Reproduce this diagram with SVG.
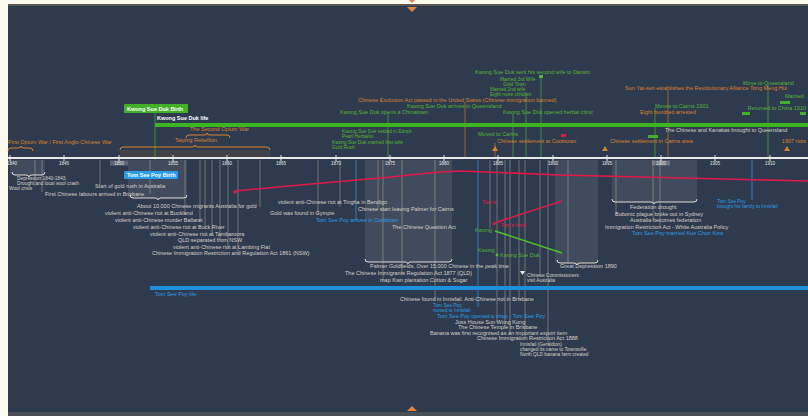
<svg xmlns="http://www.w3.org/2000/svg" width="808" height="416" viewBox="0 0 808 416">
<defs>
<style>
text{font-family:"Liberation Sans",Arial,sans-serif;font-size:5.5px}
.sm{font-size:4.8px}
.w{fill:#d6d0c6}
.o{fill:#d9812c}
.g{fill:#55b534}
.b{fill:#2d9be4}
.r{fill:#e0194a}
.yl{font-size:4.5px;fill:#e6e6e6;text-anchor:middle}
.lbl{font-size:5.5px;fill:#ffffff;font-weight:bold}
.vl{stroke:#cfc0ae;stroke-opacity:0.45;stroke-width:0.9}
.vo{stroke:#d9812c;stroke-opacity:0.7;stroke-width:0.9}
.vg{stroke:#55b534;stroke-opacity:0.7;stroke-width:0.9}
.vb{stroke:#2d9be4;stroke-opacity:0.8;stroke-width:0.9}
.per{fill:#ffffff;fill-opacity:0.09}
.brw{fill:none;stroke:#e0dbd2;stroke-width:1}
.bro{fill:none;stroke:#d9812c;stroke-width:1}
.red{fill:none;stroke:#e0194a;stroke-width:1.6}
.grn{fill:none;stroke:#4fc02a;stroke-width:1.6}
</style>
</defs>
<rect x="0" y="0" width="808" height="416" fill="#2e3b4e"/>
<rect x="0" y="0" width="8" height="416" fill="#fbfaee"/>
<rect x="0" y="0" width="808" height="4" fill="#fbfaee"/>
<rect x="8" y="4" width="800" height="2" fill="#5b5650"/>
<rect x="8" y="412" width="800" height="4" fill="#4b4f56"/>
<path d="M407 7 L417 7 L412 12 Z" fill="#e8843a"/>
<path d="M409 0 L415 0 L412 3 Z" fill="#e8843a"/>
<path d="M407 411 L417 411 L412 406 Z" fill="#e8843a"/>

<g id="periods">
<rect class="per" x="10" y="160" width="35" height="15"/>
<rect class="per" x="128" y="160" width="59" height="38"/>
<rect class="per" x="365" y="160" width="87" height="102"/>
<rect class="per" x="555" y="160" width="43" height="103"/>
<rect class="per" x="612" y="160" width="85" height="42"/>
<rect x="120" y="150" width="150" height="8" fill="#d9812c" fill-opacity="0.12"/>
</g>

<g id="connectors">
<line class="vg" x1="155" y1="113" x2="155" y2="160"/>
<line class="vo" x1="465" y1="102" x2="465" y2="158"/>
<line class="vg" x1="513" y1="114" x2="513" y2="158"/>
<line class="vg" x1="526" y1="92" x2="526" y2="158"/>
<line class="vg" x1="541" y1="77" x2="541" y2="158"/>
<line class="vo" x1="668" y1="90" x2="668" y2="158"/>
<line class="vg" x1="768" y1="85" x2="768" y2="158"/>
<line class="vg" x1="388" y1="114" x2="388" y2="158"/>
<line class="vo" x1="495" y1="143" x2="495" y2="158"/>
<line class="vg" x1="655" y1="108" x2="655" y2="158"/>
<line class="vl" x1="35" y1="160" x2="35" y2="186"/>
<line class="vl" x1="42" y1="160" x2="42" y2="192"/>
<line class="vl" x1="100" y1="160" x2="100" y2="185"/>
<line class="vl" x1="150" y1="160" x2="150" y2="194"/>
<line class="vl" x1="185" y1="160" x2="185" y2="214"/>
<line class="vl" x1="200" y1="160" x2="200" y2="221"/>
<line class="vl" x1="205" y1="160" x2="205" y2="228"/>
<line class="vl" x1="212" y1="160" x2="212" y2="235"/>
<line class="vl" x1="220" y1="160" x2="220" y2="241"/>
<line class="vl" x1="228" y1="160" x2="228" y2="248"/>
<line class="vl" x1="238" y1="160" x2="238" y2="254"/>
<line class="vl" x1="260" y1="160" x2="260" y2="207"/>
<line class="vl" x1="318" y1="160" x2="318" y2="214"/>
<line class="vl" x1="340" y1="160" x2="340" y2="207"/>
<line class="vb" x1="356" y1="160" x2="356" y2="221"/>
<line class="vl" x1="378" y1="160" x2="378" y2="210"/>
<line class="vl" x1="383" y1="160" x2="383" y2="281"/>
<line class="vl" x1="402" y1="160" x2="402" y2="274"/>
<line class="vl" x1="435" y1="160" x2="435" y2="300"/>
<line class="vb" x1="478" y1="160" x2="478" y2="307"/>
<line class="vl" x1="490" y1="160" x2="490" y2="228"/>
<line class="vl" x1="497" y1="160" x2="497" y2="322"/>
<line class="vl" x1="505" y1="160" x2="505" y2="327"/>
<line class="vl" x1="510" y1="160" x2="510" y2="333"/>
<line class="vl" x1="519" y1="160" x2="519" y2="300"/>
<line class="vl" x1="525" y1="160" x2="525" y2="339"/>
<line class="vl" x1="540" y1="160" x2="540" y2="277"/>
<line class="vl" x1="548" y1="160" x2="548" y2="345"/>
<line class="vl" x1="568" y1="160" x2="568" y2="263"/>
<line class="vl" x1="616" y1="160" x2="616" y2="215"/>
<line class="vl" x1="653" y1="160" x2="653" y2="221"/>
<line class="vl" x1="660" y1="160" x2="660" y2="228"/>
<line class="vb" x1="752" y1="160" x2="752" y2="200"/>
<path class="red" d="M235 191 L300 185 L380 178 L440 172 L460 171 L560 175 L808 181"/>
<circle cx="235" cy="192" r="1.6" fill="#e0194a"/>
<path class="red" d="M494 223 L562 201"/>
<circle cx="494" cy="224" r="1.4" fill="#e0194a"/>
<path class="grn" d="M495 231 L562 253"/>
<circle cx="497" cy="255" r="1.4" fill="#4fc02a"/>
</g>

<g id="axis">
<line x1="8" y1="158" x2="808" y2="158" stroke="#e8e8e8" stroke-width="2"/>
<g stroke="#e8e8e8" stroke-width="1">
<line x1="10" y1="155" x2="10" y2="161"/><line x1="64" y1="155" x2="64" y2="161"/><line x1="119" y1="155" x2="119" y2="161"/><line x1="173" y1="155" x2="173" y2="161"/><line x1="227" y1="155" x2="227" y2="161"/><line x1="281" y1="155" x2="281" y2="161"/><line x1="336" y1="155" x2="336" y2="161"/><line x1="390" y1="155" x2="390" y2="161"/><line x1="444" y1="155" x2="444" y2="161"/><line x1="498" y1="155" x2="498" y2="161"/><line x1="553" y1="155" x2="553" y2="161"/><line x1="607" y1="155" x2="607" y2="161"/><line x1="661" y1="155" x2="661" y2="161"/><line x1="715" y1="155" x2="715" y2="161"/><line x1="770" y1="155" x2="770" y2="161"/>
</g>
<rect x="110" y="160.5" width="18" height="5" fill="#e8e8e8" fill-opacity="0.25"/>
<rect x="652" y="160.5" width="18" height="5" fill="#e8e8e8" fill-opacity="0.25"/>
<text class="yl" x="12" y="165">1840</text><text class="yl" x="64" y="165">1845</text><text class="yl" x="119" y="165">1850</text><text class="yl" x="173" y="165">1855</text><text class="yl" x="227" y="165">1860</text><text class="yl" x="281" y="165">1865</text><text class="yl" x="336" y="165">1870</text><text class="yl" x="390" y="165">1875</text><text class="yl" x="444" y="165">1880</text><text class="yl" x="498" y="165">1885</text><text class="yl" x="553" y="165">1890</text><text class="yl" x="607" y="165">1895</text><text class="yl" x="661" y="165">1900</text><text class="yl" x="715" y="165">1905</text><text class="yl" x="770" y="165">1910</text>
</g>

<g id="kwong-birth">
<rect x="124" y="104" width="64" height="9" rx="1" fill="#44b02a"/>
<text class="lbl" x="127" y="110.5">Kwong Sue Duk Birth</text>
</g>
<g id="kwong-life">
<rect x="155" y="123" width="653" height="4" fill="#3cb521"/>
<text class="lbl" x="157" y="120">Kwong Sue Duk life</text>
</g>
<g id="tom-birth">
<rect x="124" y="171" width="54" height="8" rx="1" fill="#2a9de8"/>
<text class="lbl" x="127" y="177">Tom See Poy Birth</text>
</g>
<g id="tom-life">
<rect x="150" y="286" width="658" height="4" fill="#1e90e0"/>
<text class="b" x="155" y="296">Tom See Poy life</text>
</g>

<g id="wars">
<path class="bro" d="M8 151 Q8 148 11 148 L18 148 Q21 148 21 146 Q21 148 24 148 L30 148 Q33 148 33 151"/>
<text class="o" x="8" y="144">First Opium War / First Anglo-Chinese War</text>
<path class="bro" d="M120 150 Q120 147 123 147 L192 147 Q195 147 195 145 Q195 147 198 147 L267 147 Q270 147 270 150"/>
<text class="o" x="175" y="142">Taiping Rebellion</text>
<path class="bro" d="M186 138 Q186 135 189 135 L204 135 Q207 135 207 133 Q207 135 210 135 L227 135 Q230 135 230 138"/>
<text class="o" x="190" y="131">The Second Opium War</text>
</g>

<g id="kwong-events">
<text class="g" x="475" y="74">Kwong Sue Duk sent his second wife to Darwin</text>
<rect x="539" y="75" width="4" height="3" fill="#55b534"/>
<text class="g sm" x="500" y="81">Married 3rd Wife</text>
<text class="g sm" x="503" y="86">Gold Town</text>
<text class="g sm" x="490" y="91">Married 2nd wife</text>
<text class="g sm" x="490" y="96">Eight more children</text>
<text class="o" x="358" y="102">Chinese Exclusion Act passed in the United States (Chinese immigration banned)</text>
<text class="g" x="407" y="108">Kwong Sue Duk arrives in Queensland</text>
<text class="g" x="340" y="114">Kwong Sue Duk opens a Chinatown</text>
<text class="g" x="503" y="114">Kwong Sue Duk opened herbal clinic</text>
<text class="g sm" x="342" y="133">Kwong Sue Duk settled in Ettrick</text>
<text class="g sm" x="342" y="138">Pearl Herbalist</text>
<text class="g sm" x="332" y="143.5">Kwong Sue Duk married first wife</text>
<text class="g sm" x="332" y="148.5">Gold Rush</text>
<text class="g" x="478" y="136">Moved to Cairns</text>
<rect x="561" y="134" width="5" height="3" fill="#e0194a"/>
<text class="o" x="497" y="143">Chinese settlement at Cooktown</text>
<path d="M492 151 L498 151 L495 146 Z" fill="#d9812c"/>
<path d="M602 151 L608 151 L605 146 Z" fill="#d9812c"/>
<path d="M784 151 L790 151 L787 146 Z" fill="#d9812c"/>
<text class="g" x="743" y="85">Move to Queensland</text>
<text class="o" x="625" y="90">Sun Yat-sen establishes the Revolutionary Alliance Tong Meng Hui</text>
<text class="g" x="785" y="98">Married</text>
<rect x="780" y="101" width="10" height="3" fill="#44b02a"/>
<text class="g" x="655" y="108">Moves to Cairns 1901</text>
<text class="g" x="806" y="110" text-anchor="end">Returned to China 1910</text>
<rect x="742" y="112" width="8" height="3" fill="#44b02a"/>
<rect x="800" y="112" width="6" height="3" fill="#44b02a"/>
<text class="o" x="640" y="114">Eight hundred arrested</text>
<text class="w" x="665" y="132">The Chinese and Kanakas brought to Queensland</text>
<rect x="648" y="135" width="10" height="3" fill="#44b02a"/>
<text class="o" x="610" y="143">Chinese settlement in Cairns area</text>
<text class="o" x="806" y="143" text-anchor="end">1907 riots</text>
</g>

<g id="below-events">
<path class="brw" d="M12 172 Q12 175 15 175 L26 175 Q29 175 29 177 Q29 175 32 175 L42 175 Q45 175 45 172"/>
<text class="w sm" x="17" y="180">Depression 1840-1843,</text>
<text class="w sm" x="17" y="185">Drought and local wool crash</text>
<text class="w sm" x="9" y="190">Wool crisis</text>
<text class="w" x="95" y="188">Start of gold rush in Australia</text>
<text class="w" x="45" y="196">First Chinese labours arrived in Brisbane</text>
<path class="brw" d="M130 195 Q130 198 133 198 L155 198 Q158 198 158 200 Q158 198 161 198 L184 198 Q187 198 187 195"/>
<text class="w" x="137" y="208">About 10,000 Chinese migrants Australia for gold</text>
<text class="w" x="278" y="204">violent anti-Chinese riot at Tingha in Bendigo</text>
<text class="w" x="105" y="215">violent anti-Chinese riot at Buckland</text>
<text class="w" x="270" y="215">Gold was found in Gympie</text>
<text class="w" x="115" y="222">violent anti-Chinese murder Ballarat</text>
<text class="w" x="133" y="229">violent anti-Chinese riot at Buck River</text>
<text class="w" x="150" y="236">violent anti-Chinese riot at Tambaroora</text>
<text class="w" x="178" y="242">QLD separated from NSW</text>
<text class="w" x="173" y="249">violent anti-Chinese riot at Lambing Flat</text>
<text class="w" x="152" y="255">Chinese Immigration Restriction and Regulation Act 1861 (NSW)</text>
<text class="w" x="358" y="211">Chinese start leaving Palmer for Cairns</text>
<text class="b" x="316" y="222">Tom See Poy arrives in Cooktown</text>
<text class="w" x="392" y="229">The Chinese Question Act</text>
<text class="r" x="482" y="204">Tom's</text>
<text class="r" x="500" y="227">Tom's birth</text>
<text class="g" x="475" y="232">Kwong</text>
<text class="g" x="478" y="252">Kwong</text>
<text class="g" x="500" y="257">Kwong Sue Duk</text>
<path class="brw" d="M365 259 Q365 262 368 262 L405 262 Q408 262 408 264 Q408 262 411 262 L449 262 Q452 262 452 259"/>
<text class="w" x="370" y="268">Palmer Goldfields. Over 15,000 Chinese in the peak time</text>
<text class="w" x="345" y="275">The Chinese Immigrants Regulation Act 1877 (QLD)</text>
<text class="w" x="380" y="282">map Kwn plantation Cotton &amp; Sugar</text>
<path class="brw" d="M557 260 Q557 263 560 263 L574 263 Q577 263 577 265 Q577 263 580 263 L595 263 Q598 263 598 260"/>
<text class="w" x="560" y="268">Great Depression 1890</text>
<path d="M520 271 L525 271 L522.5 275 Z" fill="#e6e6e6"/>
<text class="w sm" x="527" y="277">Chinese Commissioners</text>
<text class="w sm" x="527" y="282">visit Australia</text>
<path class="brw" d="M612 199 Q612 202 615 202 L651 202 Q654 202 654 204 Q654 202 657 202 L694 202 Q697 202 697 199"/>
<text class="w" x="630" y="209">Federation drought</text>
<text class="w" x="615" y="216">Bubonic plague broke out in Sydney</text>
<text class="w" x="630" y="222">Australia becomes federation</text>
<text class="w" x="605" y="229">Immigration Restriction Act - White Australia Policy</text>
<text class="b" x="632" y="235">Tom See Poy married Kue Chun Kow</text>
<text class="b sm" x="717" y="203">Tom See Poy</text>
<text class="b sm" x="717" y="208">brought his family to Innisfail</text>
<text class="w" x="400" y="301">Chinese found in Innisfail. Anti-Chinese riot in Brisbane</text>
<text class="b sm" x="433" y="307">Tom See Poy</text>
<text class="b sm" x="433" y="312">moved to Innisfail</text>
<text class="b" x="437" y="318">Tom See Poy opened a shop - Tom See Poy</text>
<text class="w" x="455" y="323.5">Joss House Sun Wong Kong</text>
<text class="w" x="458" y="329">The Chinese Temple in Brisbane</text>
<text class="w" x="430" y="334.5">Banana was first recognised as an important export item</text>
<text class="w" x="477" y="340">Chinese Immigration Restriction Act 1888</text>
<text class="w sm" x="520" y="346">Innisfail (Geraldton)</text>
<text class="w sm" x="520" y="351">changed its name to Townsville</text>
<text class="w sm" x="520" y="356">North QLD banana farm created</text>
</g>
</svg>
